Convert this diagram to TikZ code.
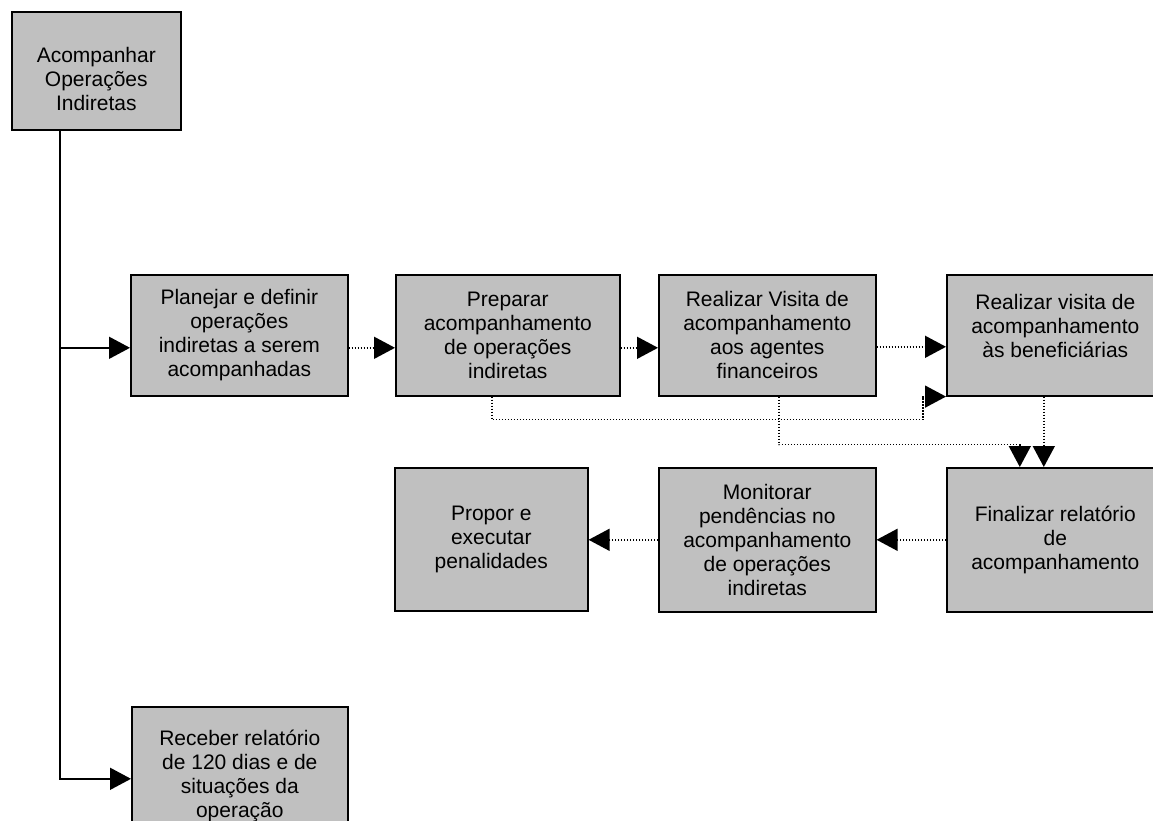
\documentclass[tikz,border=0pt]{standalone}
\usepackage{fontspec}
\setmainfont{Liberation Sans}
\usetikzlibrary{arrows.meta}
\definecolor{boxgray}{HTML}{C0C0C0}
\begin{document}
\begin{tikzpicture}[x=1pt,y=-1pt,
  box/.style={draw=black, line width=1.6pt, fill=boxgray, rectangle,
    inner sep=0pt, align=center, anchor=north west,
    font=\fontsize{21}{24}\selectfont},
  solidlink/.style={line width=1.6pt, -{Triangle[length=21pt,width=22pt]}},
  dotlink/.style={line width=1.6pt, dash pattern=on 1.4pt off 1.6pt,
    -{Triangle[length=21pt,width=22pt]}},
]
\useasboundingbox (0,0) rectangle (1153,820);
\begin{scope}
\clip (0,0) rectangle (1153,820);

% process boxes
\node[box, minimum width=169pt, minimum height=118pt] (top) at (11,11)
  {\mbox{}\\[8pt]Acompanhar\\Operações\\Indiretas};
\node[box, minimum width=217pt, minimum height=121pt] (plan) at (130,274)
  {Planejar e definir\\operações\\indiretas a serem\\acompanhadas};
\node[box, minimum width=224pt, minimum height=121pt] (prep) at (395,274)
  {Preparar\\acompanhamento\\de operações\\indiretas};
\node[box, minimum width=217pt, minimum height=121pt] (visit) at (658,274)
  {Realizar Visita de\\acompanhamento\\aos agentes\\financeiros};
\node[box, minimum width=217pt, minimum height=121pt] (benef) at (946,274)
  {Realizar visita de\\acompanhamento\\às beneficiárias\\[-6pt]\mbox{}};
\node[box, minimum width=217pt, minimum height=144pt] (final) at (946,467)
  {Finalizar relatório\\de\\acompanhamento};
\node[box, minimum width=217pt, minimum height=144pt] (monit) at (658,467)
  {Monitorar\\pendências no\\acompanhamento\\de operações\\indiretas};
\node[box, minimum width=193pt, minimum height=143pt] (propor) at (394,467)
  {Propor e\\executar\\penalidades};
\node[box, minimum width=216pt, minimum height=138pt] (rec) at (131,706)
  {Receber relatório\\de 120 dias e de\\situações da\\operação};

% main trunk from the top process
\coordinate (t0) at ([xshift=49pt]top.south west);
\draw[solidlink] (t0) |- ([yshift=-12.5pt]plan.west);
\draw[solidlink] (t0) |- ([yshift=-3pt]rec.west);

% dotted flow between activities
\draw[dotlink] ([yshift=-12.5pt]plan.east) -- ([yshift=-12.5pt]prep.west);
\draw[dotlink] ([yshift=-12.5pt]prep.east) -- ([yshift=-12.5pt]visit.west);
\draw[dotlink] ([yshift=-11.5pt]visit.east) -- ([yshift=-11.5pt]benef.west);
\draw[dotlink] ([xshift=-16pt]prep.south) -- ++(0,23)
  -| ([xshift=-23pt]benef.south west) -- (benef.south west);
\draw[dotlink] ([xshift=11.5pt]visit.south) -- ++(0,48)
  -| ([xshift=-35.5pt]final.north);
\draw[dotlink] ([xshift=-11.5pt]benef.south) -- ([xshift=-11.5pt]final.north);
\draw[dotlink] (final.west) -- (monit.east);
\draw[dotlink] (monit.west) -- (monit.west -| propor.east);
\end{scope}
\end{tikzpicture}
\end{document}
